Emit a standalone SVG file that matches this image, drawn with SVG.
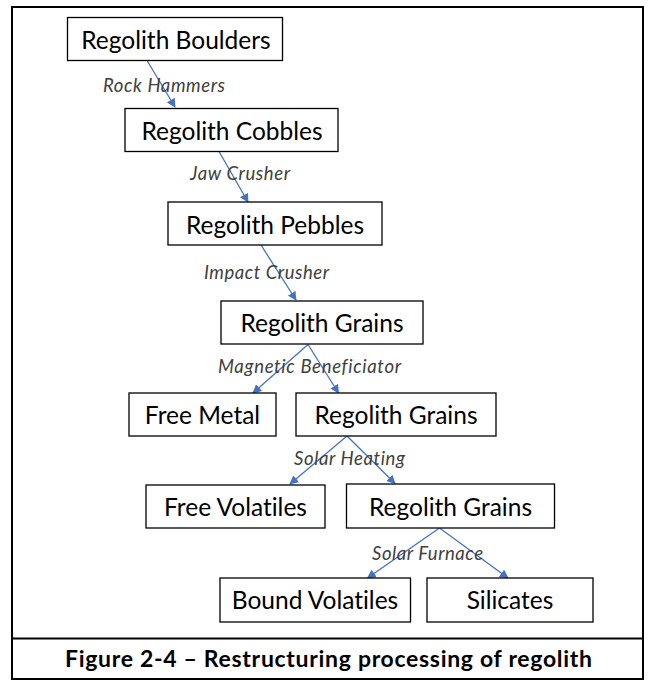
<svg xmlns="http://www.w3.org/2000/svg" width="649" height="681" viewBox="0 0 649 681">
<style>
text{font-variant-ligatures:none;font-feature-settings:"liga" 0}
.box{fill:#fff;stroke:#000;stroke-width:1.3}
.nt{font-family:Lato,"Liberation Sans",sans-serif;font-size:24.5px;fill:#000;text-anchor:middle}
.lbl{font-family:Lato,"Liberation Sans",sans-serif;font-size:18.5px;font-style:italic;fill:#404040}
.arr{stroke:#4472C4;stroke-width:1.3;fill:none;marker-end:url(#ah)}
.cap{font-family:Lato,"Liberation Sans",sans-serif;font-size:23px;font-weight:bold;fill:#000}
</style>
<defs>
<marker id="ah" viewBox="0 0 10 10" refX="9" refY="5" markerWidth="9" markerHeight="9" markerUnits="userSpaceOnUse" orient="auto">
<path d="M0,0 L10,5 L0,10 z" fill="#4472C4"/>
</marker>
</defs>
<rect x="0" y="0" width="649" height="681" fill="#fff"/>
<rect x="12" y="7" width="631" height="672" fill="none" stroke="#000" stroke-width="2"/>
<line x1="12" y1="638.5" x2="643" y2="638.5" stroke="#000" stroke-width="2"/>
<g id="connectors">
<line class="arr" x1="147.3" y1="61" x2="175" y2="107"/>
<line class="arr" x1="219" y1="151.5" x2="248" y2="202"/>
<line class="arr" x1="261" y1="245" x2="296" y2="300"/>
<line class="arr" x1="308" y1="344.5" x2="253" y2="393"/>
<line class="arr" x1="308" y1="344.5" x2="338.5" y2="393"/>
<line class="arr" x1="347" y1="436" x2="290" y2="484"/>
<line class="arr" x1="347" y1="436" x2="395" y2="483.5"/>
<line class="arr" x1="439.5" y1="528" x2="367.5" y2="578"/>
<line class="arr" x1="439.5" y1="528" x2="508" y2="578"/>
<text class="lbl" x="103" y="91.5" textLength="122">Rock Hammers</text>
<text class="lbl" x="190" y="180" textLength="100">Jaw Crusher</text>
<text class="lbl" x="204" y="279" textLength="125">Impact Crusher</text>
<text class="lbl" x="218" y="372.5" textLength="183">Magnetic Beneficiator</text>
<text class="lbl" x="294" y="465" textLength="111">Solar Heating</text>
<text class="lbl" x="372" y="560" textLength="111">Solar Furnace</text>
</g>
<g id="n1"><rect class="box" x="67.5" y="17.5" width="215" height="43"/><text class="nt" x="176" y="48.5">Regolith Boulders</text></g>
<g id="n2"><rect class="box" x="125" y="108.5" width="213" height="43"/><text class="nt" x="232" y="140">Regolith Cobbles</text></g>
<g id="n3"><rect class="box" x="168" y="202" width="214" height="43"/><text class="nt" x="275" y="233.5">Regolith Pebbles</text></g>
<g id="n4"><rect class="box" x="221" y="301" width="202" height="43"/><text class="nt" x="322" y="332">Regolith Grains</text></g>
<g id="n5"><rect class="box" x="129" y="393" width="147" height="43"/><text class="nt" x="202.5" y="424">Free Metal</text></g>
<g id="n6"><rect class="box" x="296" y="393" width="200" height="43"/><text class="nt" x="396" y="424">Regolith Grains</text></g>
<g id="n7"><rect class="box" x="146" y="485" width="179" height="43"/><text class="nt" x="235.5" y="516">Free Volatiles</text></g>
<g id="n8"><rect class="box" x="346.5" y="484" width="208" height="44"/><text class="nt" x="450.5" y="516">Regolith Grains</text></g>
<g id="n9"><rect class="box" x="220" y="578" width="190.5" height="44"/><text class="nt" x="315" y="609">Bound Volatiles</text></g>
<g id="n10"><rect class="box" x="427" y="578" width="166" height="44"/><text class="nt" x="510" y="609">Silicates</text></g>
<text class="cap" x="65" y="667" textLength="527">Figure 2-4 – Restructuring processing of regolith</text>
</svg>
